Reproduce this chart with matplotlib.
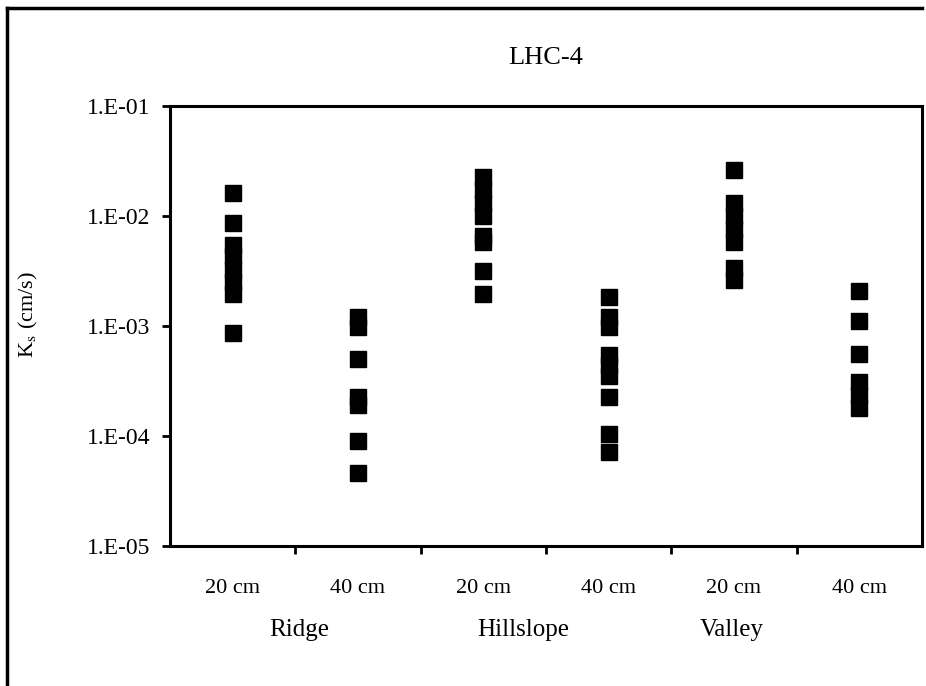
import matplotlib.pyplot as plt
from matplotlib.lines import Line2D
from matplotlib.ticker import FixedLocator, FuncFormatter
import numpy as np

plt.rcParams['font.family'] = ['Liberation Serif', 'DejaVu Serif']
plt.rcParams['mathtext.fontset'] = 'stix'

# saturated hydraulic conductivity, cm/s
ridge_20 = [1.62e-2, 8.7e-3, 5.5e-3, 4.3e-3, 3.2e-3, 2.5e-3, 1.95e-3, 8.7e-4]
ridge_40 = [1.2e-3, 9.8e-4, 5.0e-4, 2.24e-4, 1.9e-4, 9.1e-5, 4.6e-5]
hill_20 = [2.24e-2, 1.74e-2, 1.32e-2, 1.0e-2, 6.6e-3, 5.75e-3, 3.16e-3, 1.95e-3]
hill_40 = [1.82e-3, 1.2e-3, 9.8e-4, 5.4e-4, 4.4e-4, 3.5e-4, 2.24e-4, 1.05e-4, 7.1e-5]
valley_20 = [2.6e-2, 1.32e-2, 1.0e-2, 7.6e-3, 5.75e-3, 3.4e-3, 2.6e-3]
valley_40 = [2.1e-3, 1.12e-3, 5.6e-4, 3.1e-4, 2.34e-4, 1.78e-4]

depths = ['20 cm', '40 cm', '20 cm', '40 cm', '20 cm', '40 cm']
sites = ['Ridge', 'Hillslope', 'Valley']
site_x = [0.53, 2.32, 3.98]
series = [ridge_20, ridge_40, hill_20, hill_40, valley_20, valley_40]

fig = plt.figure(figsize=(9.26, 6.86), dpi=100)
ax = fig.add_axes([170 / 926, 1 - 546 / 686, 752 / 926, 440 / 686])

for i, vals in enumerate(series):
    ax.plot(np.full(len(vals), i), vals, ls='none', marker='s',
            ms=11.5, mfc='black', mec='black')

ax.set_yscale('log')
ax.set_ylim(1e-5, 1e-1)
ax.set_xlim(-0.5, 5.5)
ax.yaxis.set_major_locator(FixedLocator([1e-5, 1e-4, 1e-3, 1e-2, 1e-1]))
ax.yaxis.set_minor_locator(FixedLocator([]))
ax.yaxis.set_major_formatter(FuncFormatter(
    lambda v, p: '1.E-%02d' % round(-np.log10(v))))

# category labels sit between the boundary ticks
ax.set_xticks(np.arange(0.5, 5, 1))
ax.set_xticklabels([])
ax.set_xticks(np.arange(6), minor=True)
ax.set_xticklabels(depths, minor=True, fontsize=16)
ax.tick_params(axis='x', which='minor', length=0, pad=24)
ax.tick_params(axis='x', which='major', length=6, width=2, direction='out')
ax.tick_params(axis='y', length=6, width=2, direction='out',
               labelsize=17, pad=8)

for s in ax.spines.values():
    s.set_linewidth(2.2)

for name, x in zip(sites, site_x):
    ax.text(x, -0.19, name, transform=ax.get_xaxis_transform(),
            ha='center', va='center', fontsize=18)

ax.set_title('LHC-4', fontsize=19, pad=30)
ax.set_ylabel(r'K$_\mathrm{s}$ (cm/s)', fontsize=16)
ax.yaxis.set_label_coords(-0.173, 0.525)

# outer frame: left and top edges
fig.add_artist(Line2D([7 / 926, 7 / 926], [0, 1 - 8 / 686],
                      color='black', lw=2.5, transform=fig.transFigure))
fig.add_artist(Line2D([7 / 926, 922 / 926], [1 - 8 / 686, 1 - 8 / 686],
                      color='black', lw=2.5, transform=fig.transFigure))

fig.savefig('out.png', dpi=100, facecolor='white')
